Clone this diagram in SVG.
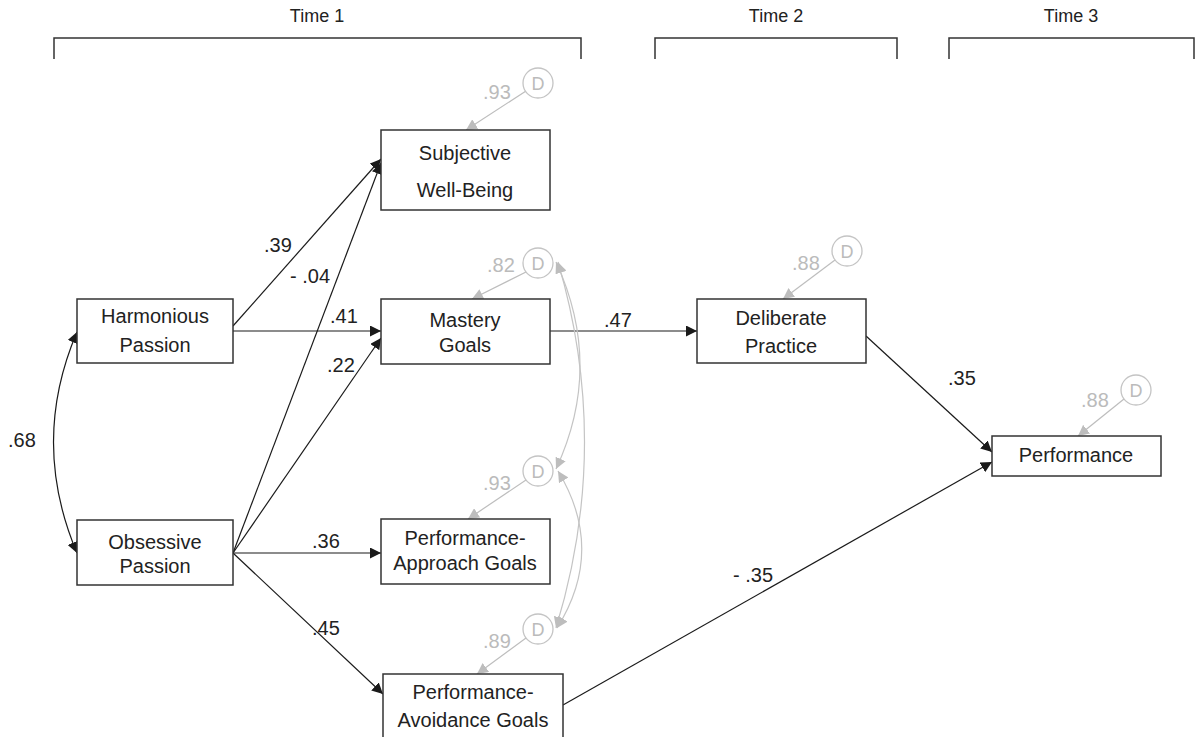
<svg xmlns="http://www.w3.org/2000/svg" width="1195" height="737" viewBox="0 0 1195 737">
<defs>
<marker id="ah" viewBox="0 0 10 10" refX="10" refY="5" markerWidth="11" markerHeight="11" markerUnits="userSpaceOnUse" orient="auto"><path d="M0,0 L10,5 L0,10 z" fill="#1a1a1a"/></marker>
<marker id="ahs" viewBox="0 0 10 10" refX="10" refY="5" markerWidth="11" markerHeight="11" markerUnits="userSpaceOnUse" orient="auto-start-reverse"><path d="M0,0 L10,5 L0,10 z" fill="#1a1a1a"/></marker>
<marker id="gh" viewBox="0 0 10 10" refX="10" refY="5" markerWidth="11" markerHeight="11" markerUnits="userSpaceOnUse" orient="auto-start-reverse"><path d="M0,0 L10,5 L0,10 z" fill="#bdbdbd"/></marker>
</defs>
<style>
text{font-family:"Liberation Sans",Arial,sans-serif;font-size:20px;fill:#222;}
.t{text-anchor:middle;}
.tm{font-size:18px;}
.g{fill:#bbb;}
.d{font-size:18px;fill:#bbb;text-anchor:middle;}
.box{fill:#fff;stroke:#333;stroke-width:1.5;}
.br{fill:none;stroke:#333;stroke-width:1.5;}
.c{fill:#fff;stroke:#c4c4c4;stroke-width:1.3;}
.e{fill:none;stroke:#1a1a1a;stroke-width:1.2;marker-end:url(#ah);}
.ge{fill:none;stroke:#bdbdbd;stroke-width:1.2;marker-end:url(#gh);}
.gc{fill:none;stroke:#c4c4c4;stroke-width:1.2;marker-start:url(#gh);marker-end:url(#gh);}
</style>
<rect width="1195" height="737" fill="#fff"/>
<g id="timeline">
<path class="br" d="M54,59 V38 H581 V59"/>
<path class="br" d="M655,59 V38 H897 V59"/>
<path class="br" d="M949,59 V38 H1194 V59"/>
<text class="t tm" x="317" y="22">Time 1</text>
<text class="t tm" x="776" y="22">Time 2</text>
<text class="t tm" x="1071" y="22">Time 3</text>
</g>
<g id="connectors">
<path d="M77,332 Q30,442 77,553" fill="none" stroke="#1a1a1a" stroke-width="1.2" marker-start="url(#ahs)" marker-end="url(#ahs)"/>
<line class="e" x1="233" y1="326" x2="381" y2="159"/>
<line class="e" x1="233" y1="331" x2="381" y2="331"/>
<line class="e" x1="233" y1="553" x2="381" y2="163"/>
<line class="e" x1="233" y1="553" x2="381" y2="338"/>
<line class="e" x1="233" y1="553" x2="381" y2="553"/>
<line class="e" x1="233" y1="553" x2="383" y2="694"/>
<line class="e" x1="550" y1="331" x2="697" y2="331"/>
<line class="e" x1="866" y1="336" x2="992" y2="452"/>
<line class="e" x1="563" y1="705" x2="992" y2="462"/>
<line class="ge" x1="526" y1="91" x2="466" y2="130"/>
<line class="ge" x1="526" y1="272" x2="472" y2="299"/>
<line class="ge" x1="526" y1="480" x2="468" y2="519"/>
<line class="ge" x1="526" y1="638" x2="477" y2="674"/>
<line class="ge" x1="835" y1="260" x2="783" y2="299"/>
<line class="ge" x1="1124" y1="399" x2="1078" y2="436"/>
<path class="gc" d="M556,262 Q604,366 556,469"/>
<path class="gc" d="M558,262 Q612,445 556,628"/>
<path class="gc" d="M558,471 Q606,550 557,628"/>
<text x="264" y="252">.39</text>
<text x="290" y="283">- .04</text>
<text x="330" y="323">.41</text>
<text x="327" y="372">.22</text>
<text x="312" y="548">.36</text>
<text x="312" y="635">.45</text>
<text x="604" y="327">.47</text>
<text x="948" y="385">.35</text>
<text x="733" y="582">- .35</text>
<text x="8" y="447">.68</text>
<text class="g" x="483" y="99">.93</text>
<text class="g" x="487" y="272">.82</text>
<text class="g" x="483" y="490">.93</text>
<text class="g" x="483" y="648">.89</text>
<text class="g" x="792" y="270">.88</text>
<text class="g" x="1081" y="407">.88</text>
</g>
<g id="d-swb"><circle class="c" cx="538" cy="83" r="15"/><text class="d" x="538" y="89.5">D</text></g>
<g id="d-mg"><circle class="c" cx="538" cy="263" r="15"/><text class="d" x="538" y="269.5">D</text></g>
<g id="d-pag"><circle class="c" cx="538" cy="471" r="15"/><text class="d" x="538" y="477.5">D</text></g>
<g id="d-pavg"><circle class="c" cx="538" cy="629" r="15"/><text class="d" x="538" y="635.5">D</text></g>
<g id="d-dp"><circle class="c" cx="847" cy="251" r="15"/><text class="d" x="847" y="257.5">D</text></g>
<g id="d-perf"><circle class="c" cx="1136" cy="390" r="15"/><text class="d" x="1136" y="396.5">D</text></g>
<g id="harmonious"><rect class="box" x="77" y="299" width="156" height="64"/><text class="t" x="155" y="323">Harmonious</text><text class="t" x="155" y="352">Passion</text></g>
<g id="obsessive"><rect class="box" x="77" y="520" width="156" height="65"/><text class="t" x="155" y="549">Obsessive</text><text class="t" x="155" y="573">Passion</text></g>
<g id="swb"><rect class="box" x="381" y="130" width="169" height="80"/><text class="t" x="465" y="160">Subjective</text><text class="t" x="465" y="197">Well-Being</text></g>
<g id="mastery"><rect class="box" x="381" y="299" width="169" height="65"/><text class="t" x="465" y="327">Mastery</text><text class="t" x="465" y="352">Goals</text></g>
<g id="pag"><rect class="box" x="381" y="519" width="169" height="65"/><text class="t" x="465" y="545">Performance-</text><text class="t" x="465" y="570">Approach Goals</text></g>
<g id="pavg"><rect class="box" x="383" y="674" width="180" height="70"/><text class="t" x="473" y="699">Performance-</text><text class="t" x="473" y="727">Avoidance Goals</text></g>
<g id="dp"><rect class="box" x="697" y="299" width="169" height="64"/><text class="t" x="781" y="325">Deliberate</text><text class="t" x="781" y="353">Practice</text></g>
<g id="perf"><rect class="box" x="992" y="436" width="169" height="40"/><text class="t" x="1076" y="462">Performance</text></g>
</svg>
